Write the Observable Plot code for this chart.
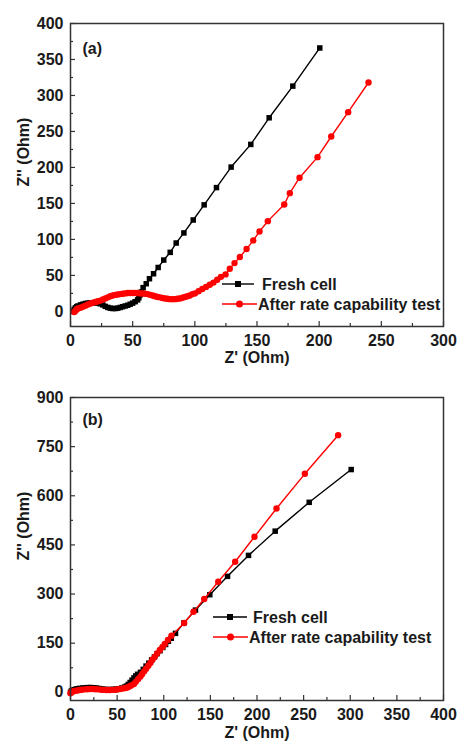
<!DOCTYPE html>
<html><head><meta charset="utf-8">
<script src="https://cdn.jsdelivr.net/npm/d3@7"></script>
<script src="https://cdn.jsdelivr.net/npm/@observablehq/plot@0.6"></script>
<style>
body{margin:0;background:#fff;}
#wrap{position:relative;width:457px;height:743px;overflow:hidden;background:#fff;}
.panel{position:absolute;left:0;}
.panel svg{display:block;}
#legend{position:absolute;left:0;top:0;pointer-events:none;}
</style></head><body><div id="wrap"></div>
<script>
// ---- Data: panel (a) ----
const freshA = [[2,0],[3,3],[4,5],[5,6.5],[6,7.5],[8,9],[10,10],[12,11],[14,11.5],[16,12],[18,12],[20,12],[22,11.5],[24,10.5],[26,9],[28,7],[30,5.5],[32,4.5],[34,4],[36,4],[38,4.5],[40,5.5],[42,6.5],[44,7.5],[46,8.5],[48,10],[50,11.5],[52,13.5],[54,16],[55,19],[56,23],[57,27],[58.4,33],[60.9,38.4],[63.5,45.4],[66.8,52.3],[70.5,61],[75,71.3],[80.2,82],[85,95],[91.2,109],[98.7,127],[107.5,148],[117.4,172],[129.2,200.5],[145,232],[159.8,269],[178.8,313],[200.5,366]];
const agedA = [[3,-1],[4,1],[5,3],[6,4],[8,5],[10,6.5],[12,8],[14,9.5],[16,11],[18,12],[20,13],[22,14],[24,15],[26,16.5],[28,18],[30,19.5],[32,21],[34,22],[36,23],[38,23.5],[40,24],[42,24.5],[44,25],[46,25.5],[48,25.5],[50,25.5],[52,25.5],[54,25.5],[56,25],[58,25],[60,24.5],[62,24],[64,23],[66,22],[68,21],[70,20],[72,19.5],[74,18.5],[76,18],[78,17.5],[80,17],[82,17],[84,17],[86,17.5],[88,18],[90,19],[92,20],[94,21],[96,22],[98,24],[100,25],[103,28],[106,31],[109,34],[112,37],[115,40],[118,44],[121,48],[124.7,51.4],[128.1,59.3],[131.9,67.1],[136.2,75.5],[141.6,86.6],[147,98.6],[152,111],[158.7,125.4],[171.9,148.6],[176.4,164.3],[184.2,185.7],[198.7,214.3],[209.7,243],[223.3,276.8],[239.7,318]];
const xTicksA = [0,50,100,150,200,250,300];
const xMinorA = [25,75,125,175,225,275];
const yTicksA = [0,50,100,150,200,250,300,350,400];
const yMinorA = [25,75,125,175,225,275,325,375];

// ---- Data: panel (b) ----
const freshB = [[0,0],[1,4],[2,6],[4,8],[6,10],[8,11],[10,12],[13,13],[16,14],[19,14.5],[22,14.5],[25,14],[28,13],[31,11.5],[34,10],[37,9],[40,8.5],[43,8.5],[46,9],[49,10],[52,11],[55,13],[58,16],[60,19],[62,24],[64,30],[66,37],[68,44],[70,50],[72,55],[75,61],[78,70],[81,80],[84,89],[87,99],[90,108],[93,118],[96,127],[99,137],[102,146],[105,156],[108,165],[112.6,180],[121.6,212],[134,251],[149.4,298],[168.4,354],[190.9,418],[219.5,492],[256,580],[301,680]];
const agedB = [[0,-3],[1,0],[2,2],[4,4],[6,5],[8,6],[10,7],[12,8],[15,9],[18,9.5],[21,10],[24,10],[27,9.5],[30,9],[33,8],[36,7.5],[39,7],[42,7],[45,7.5],[48,8],[50,8.5],[53,10],[56,11.5],[59,13],[61,15],[63,18],[65,21],[68,25.6],[70,32],[72.6,40.7],[75,48],[76.9,56],[79,64],[81.1,72],[83.5,81],[85.8,90.6],[88,100],[90.5,109],[93,119],[95.8,129],[98.5,138],[101.1,147.6],[104.5,160],[108.3,173],[121.9,211.7],[131.9,246],[143.4,285],[158.4,337.7],[176.6,398.7],[197.3,475],[220.9,561],[251.3,667],[287,785]];
const xTicksB = [0,50,100,150,200,250,300,350,400];
const xMinorB = [25,75,125,175,225,275,325,375];
const yTicksB = [0,150,300,450,600,750,900];
const yMinorB = [75,225,375,525,675,825];

const seriesNames = ["Fresh cell", "After rate capability test"];
const seriesColors = ["#000000", "#ff0000"];
const xTitle = "Z' (Ohm)";
const yTitle = "Z'' (Ohm)";
const panelTags = ["(a)", "(b)"];

const W = 457, ML = 70, MR = 14;
const FONT = "'Liberation Sans', Arial, Helvetica, sans-serif";

function panel(o) {
  const pw = W - ML - MR, ph = o.height - o.marginTop - o.marginBottom;
  const rows = s => s.map(([x, y]) => ({x, y}));
  return Plot.plot({
    width: W, height: o.height,
    marginLeft: ML, marginRight: MR, marginTop: o.marginTop, marginBottom: o.marginBottom,
    x: {domain: o.xDomain}, y: {domain: o.yDomain},
    style: {fontFamily: FONT, fontSize: "16px", fontWeight: "bold", color: "#1a1a1a", background: "#fff"},
    marks: [
      Plot.tickX(o.xTicks, {x: d => d, insetTop: ph - 5, stroke: "#333", strokeWidth: 1.2}),
      Plot.tickX(o.xMinor, {x: d => d, insetTop: ph - 3, stroke: "#333", strokeWidth: 1.2}),
      Plot.tickY(o.yTicks, {y: d => d, insetRight: pw - 5, stroke: "#333", strokeWidth: 1.2}),
      Plot.tickY(o.yMinor, {y: d => d, insetRight: pw - 3, stroke: "#333", strokeWidth: 1.2}),
      Plot.axisX(o.xTicks, {tickSize: 0, tickPadding: 8, label: null, fontSize: 16}),
      Plot.axisY(o.yTicks, {tickSize: 0, tickPadding: 7, label: null, fontSize: 16}),
      Plot.line(rows(o.fresh), {x: "x", y: "y", stroke: seriesColors[0], strokeWidth: 1.4}),
      Plot.dot(rows(o.fresh), {x: "x", y: "y", symbol: "square", r: 3.1, fill: seriesColors[0]}),
      Plot.line(rows(o.aged), {x: "x", y: "y", stroke: seriesColors[1], strokeWidth: 1.4}),
      Plot.dot(rows(o.aged), {x: "x", y: "y", symbol: "circle", r: 3.2, fill: seriesColors[1]}),
      Plot.frame({stroke: "#333", strokeWidth: 1.5}),
      Plot.text([o.tag], {frameAnchor: "top-left", dx: 12, dy: o.tagDy, textAnchor: "start", fontSize: 16}),
      Plot.text([yTitle], {frameAnchor: "left", rotate: -90, dx: -47, dy: 11.5, fontSize: 16}),
      Plot.text([xTitle], {frameAnchor: "bottom", dy: o.titleDy, fontSize: 16})
    ]
  });
}

const wrap = document.getElementById("wrap");

const pA = panel({fresh: freshA, aged: agedA, xDomain: [0, 300], yDomain: [-21, 400],
  xTicks: xTicksA, xMinor: xMinorA, yTicks: yTicksA, yMinor: yMinorA,
  height: 370, marginTop: 23, marginBottom: 44, tag: panelTags[0], tagDy: 19, titleDy: 36});
const dA = document.createElement("div"); dA.className = "panel"; dA.style.top = "0px"; dA.appendChild(pA); wrap.appendChild(dA);

const pB = panel({fresh: freshB, aged: agedB, xDomain: [0, 400], yDomain: [-25, 900],
  xTicks: xTicksB, xMinor: xMinorB, yTicks: yTicksB, yMinor: yMinorB,
  height: 373, marginTop: 27, marginBottom: 43, tag: panelTags[1], tagDy: 16, titleDy: 37});
const dB = document.createElement("div"); dB.className = "panel"; dB.style.top = "370px"; dB.appendChild(pB); wrap.appendChild(dB);

// ---- Legends (overlay) ----
const lg = d3.select(wrap).append("svg").attr("id", "legend").attr("width", W).attr("height", 743)
  .style("font-family", FONT).style("font-weight", "bold").style("font-size", "16px");
const legendSpecs = [
  {x1: 222, rows: [{y: 284, x2: 254, tx: 262}, {y: 304, x2: 257, tx: 258}]},
  {x1: 213, rows: [{y: 617, x2: 247, tx: 253}, {y: 637, x2: 248, tx: 249}]}
];
legendSpecs.forEach(spec => {
  spec.rows.forEach((r, i) => {
    const g = lg.append("g");
    g.append("line").attr("x1", spec.x1).attr("x2", r.x2).attr("y1", r.y).attr("y2", r.y)
      .attr("stroke", seriesColors[i]).attr("stroke-width", 1.4);
    const cx = (spec.x1 + r.x2) / 2;
    if (i === 0) g.append("rect").attr("x", cx - 3).attr("y", r.y - 3).attr("width", 6).attr("height", 6).attr("fill", seriesColors[0]);
    else g.append("circle").attr("cx", cx).attr("cy", r.y).attr("r", 3.5).attr("fill", seriesColors[1]);
    g.append("text").attr("x", r.tx).attr("y", r.y).attr("dy", "0.36em").attr("fill", "#1a1a1a").text(seriesNames[i]);
  });
});
</script>
</body></html>
